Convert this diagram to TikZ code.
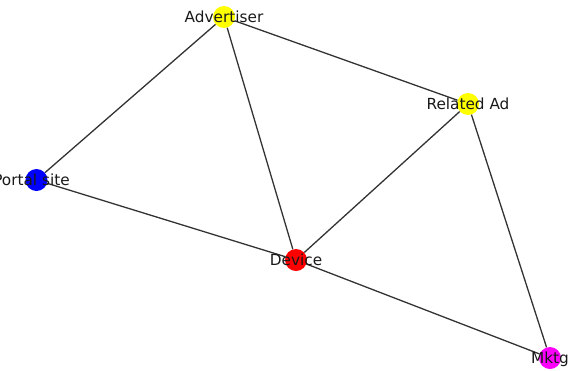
\documentclass[tikz,border=0pt]{standalone}
\usepackage{fontspec}
\setmainfont{DejaVu Sans}
\begin{document}
\begin{tikzpicture}[x=1pt,y=-1pt,
  vertex/.style={circle,inner sep=0pt,minimum size=22pt,draw=none},
  link/.style={draw=black!80,line width=1.3pt},
  tag/.style={anchor=base,inner sep=0pt,font=\fontsize{15.3}{15.3}\selectfont,text=black!90}]
  \useasboundingbox (0,0) rectangle (569,370);
  \clip (0,0) rectangle (569,370);
  % graph vertices
  \node[vertex,fill={rgb,255:red,255;green,255;blue,0}] (adv) at (224,17) {};
  \node[vertex,fill={rgb,255:red,255;green,255;blue,0}] (rel) at (468,104) {};
  \node[vertex,fill={rgb,255:red,0;green,0;blue,255}] (portal) at (36.5,180) {};
  \node[vertex,fill={rgb,255:red,255;green,0;blue,0}] (dev) at (296,260) {};
  \node[vertex,fill={rgb,255:red,255;green,0;blue,255}] (mktg) at (550,358) {};
  % edges
  \draw[link] (adv) -- (portal);
  \draw[link] (adv) -- (dev);
  \draw[link] (adv) -- (rel);
  \draw[link] (rel) -- (dev);
  \draw[link] (rel) -- (mktg);
  \draw[link] (portal) -- (dev);
  \draw[link] (dev) -- (mktg);
  % labels on top
  \node[tag] (advL) at ([yshift=-5.5pt]adv.center) {Advertiser};
  \node[tag] (relL) at ([yshift=-5.5pt]rel.center) {Related Ad};
  \node[tag] (portalL) at ([xshift=-5pt,yshift=-5.5pt]portal.center) {Portal site};
  \node[tag] (devL) at ([yshift=-5.5pt]dev.center) {Device};
  \node[tag] (mktgL) at ([yshift=-5.5pt]mktg.center) {Mktg};
\end{tikzpicture}
\end{document}
